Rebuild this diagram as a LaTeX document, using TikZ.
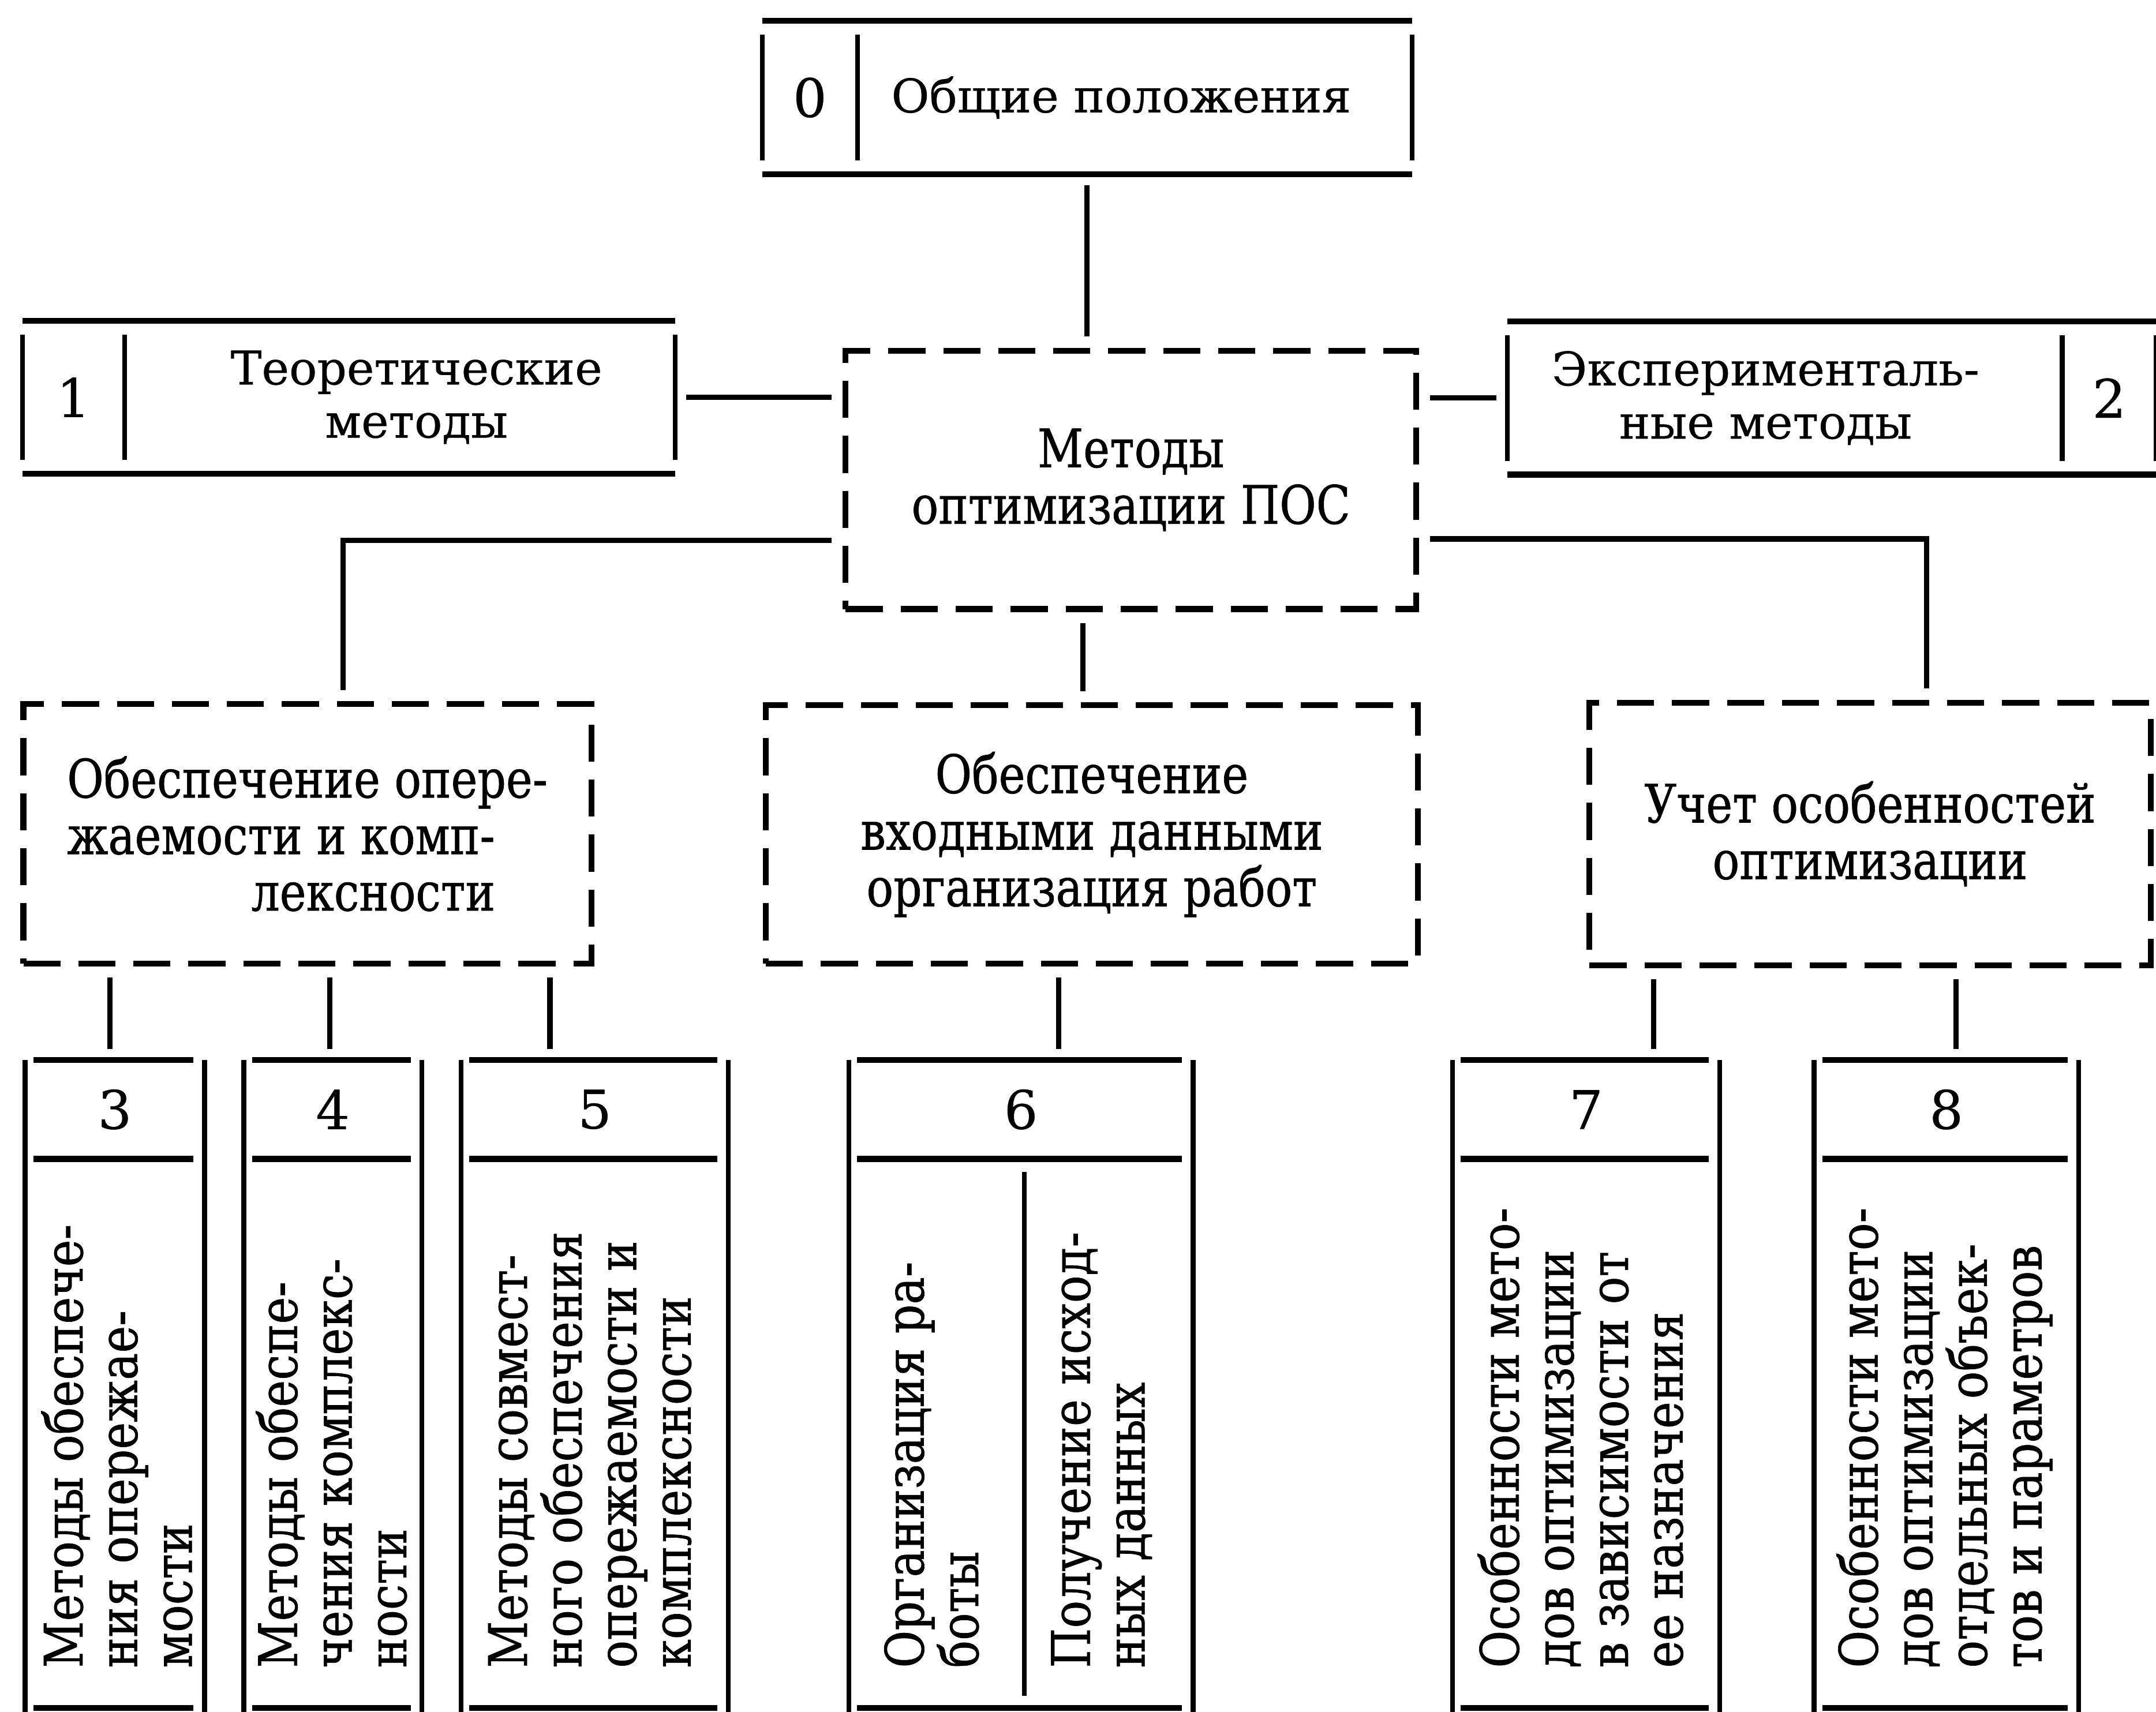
\documentclass[tikz,border=0pt]{standalone}
\usepackage{fontspec}
\setmainfont[FakeBold=0.4]{DejaVu Serif}
\newfontfamily\boxfont[FakeStretch=0.84,FakeBold=0.7]{DejaVu Serif}
\newfontfamily\spinefont[FakeStretch=0.86,FakeBold=0.7]{DejaVu Serif}
\usetikzlibrary{positioning}

\newcommand{\topframe}[2]{%
	\draw[rule] (#1.north west) -- (#2.north east);
	\draw[rule] (#1.south west) -- (#2.south east);
	\draw[side] ([yshift=-1mm]#1.north west) -- ([yshift=1mm]#1.south west);
	\draw[side] ([yshift=-1mm]#1.north east) -- ([yshift=1mm]#1.south east);
	\draw[side] ([yshift=-1mm]#2.north east) -- ([yshift=1mm]#2.south east);
}
\newcommand{\colframe}[2]{%
	\draw[side] (#1.north west) -- ([yshift=-1mm]#2.south west);
	\draw[side] (#1.north east) -- ([yshift=-1mm]#2.south east);
	\draw[rule] ([xshift=0.6mm]#1.north west) -- ([xshift=-0.8mm]#1.north east);
	\draw[rule] ([xshift=0.6mm]#1.south west) -- ([xshift=-0.8mm]#1.south east);
	\draw[rule] ([xshift=0.6mm]#2.south west) -- ([xshift=-0.8mm]#2.south east);
}

\begin{document}
\begin{tikzpicture}[
	rule/.style={line width=1.2pt},
	side/.style={line width=1pt},
	link/.style={line width=1.1pt, shorten <=0.8mm, shorten >=0.8mm},
	dashbox/.style={draw, line width=1.2pt, dash pattern=on 2.7mm off 1.3mm, inner sep=0pt, align=center, font=\boxfont\fontsize{11}{11.7}\selectfont},
	cell/.style={inner sep=0pt, minimum height=1.1cm, align=center, font=\fontsize{9.6}{11}\selectfont},
	numcell/.style={cell, font=\fontsize{11}{12}\selectfont},
	head/.style={inner sep=0pt, minimum height=0.705cm, font=\fontsize{11}{12}\selectfont},
	body/.style={inner sep=0pt, minimum height=3.98cm},
	spine/.style={rotate=90, anchor=north west, inner sep=0pt, align=left, font=\spinefont\fontsize{11}{11.3}\selectfont}]
	\useasboundingbox (0,0) rectangle (15.68,-12.45);

	\node[numcell, minimum width=0.68cm] (n0) at (5.89,-0.71) {0};
	\node[cell, minimum width=4.02cm, right=0pt of n0] (b0) {Общие положения\hspace*{2mm}};
	\topframe{n0}{b0}
	\node[numcell, minimum width=0.73cm] (n1) at (0.535,-2.89) {1};
	\node[cell, minimum width=3.99cm, right=0pt of n1] (b1) {\hspace*{2.4mm}Теоретические\\\hspace*{2.4mm}методы};
	\topframe{n1}{b1}
	\node[cell, minimum width=4.02cm] (b2) at (12.98,-2.895) {Эксперименталь-\hspace*{2.8mm}\\ные методы\hspace*{2.8mm}};
	\node[numcell, minimum width=0.67cm, right=0pt of b2] (n2) {2};
	\topframe{b2}{n2}

	\node[dashbox, minimum width=4.15cm, minimum height=1.88cm] (opt) at (8.225,-3.49) {Методы\\оптимизации ПОС};
	\node[dashbox, minimum width=4.13cm, minimum height=1.89cm, align=left] (sa) at (2.235,-6.065) {Обеспечение опере-\\жаемости и комп-\\\hspace*{1.34cm}лексности};
	\node[dashbox, minimum width=4.74cm, minimum height=1.88cm] (sb) at (7.94,-6.07) {Обеспечение\\входными данными\\организация работ};
	\node[dashbox, minimum width=4.08cm, minimum height=1.91cm] (sc) at (13.6,-6.065) {Учет особенностей\\оптимизации};

	\draw[link] ([xshift=-3.2mm]opt.north) -- ([xshift=-3.2mm]opt.north |- b0.south);
	\draw[link] (b1.east) -- (b1.east -| opt.west);
	\draw[link] (opt.east |- b2.west) -- (b2.west);
	\draw[link] ([yshift=-4.4mm]opt.west) -| ([xshift=2.6mm]sa.north);
	\draw[link] ([yshift=-4.3mm]opt.east) -| ([xshift=4.1mm]sc.north);
	\draw[link] ([xshift=-3.5mm]opt.south) -- ([xshift=-3.5mm]opt.south |- sb.north);

	\node[head, minimum width=1.29cm] (h3) at (0.835,-8.07) {3};
	\node[head, minimum width=1.28cm] (h4) at (2.42,-8.07) {4};
	\node[head, minimum width=1.93cm] (h5) at (4.325,-8.07) {5};
	\node[head, minimum width=2.49cm] (h6) at (7.425,-8.07) {6};
	\node[head, minimum width=1.93cm] (h7) at (11.535,-8.07) {7};
	\node[head, minimum width=1.91cm] (h8) at (14.155,-8.07) {8};
	\node[body, minimum width=1.29cm, below=0pt of h3] (t3) {};
	\node[body, minimum width=1.28cm, below=0pt of h4] (t4) {};
	\node[body, minimum width=1.93cm, below=0pt of h5] (t5) {};
	\node[body, minimum width=2.49cm, below=0pt of h6] (t6) {};
	\node[body, minimum width=1.93cm, below=0pt of h7] (t7) {};
	\node[body, minimum width=1.91cm, below=0pt of h8] (t8) {};
	\colframe{h3}{t3}
	\colframe{h4}{t4}
	\colframe{h5}{t5}
	\colframe{h6}{t6}
	\colframe{h7}{t7}
	\colframe{h8}{t8}
	\draw[side] ([xshift=0.25mm,yshift=-0.95mm]t6.north) -- ([xshift=0.25mm,yshift=0.9mm]t6.south);

	\draw[link] ([xshift=-0.35mm]h3.north) -- ([xshift=-0.35mm]h3.north |- sa.south);
	\draw[link] ([xshift=-0.2mm]h4.north) -- ([xshift=-0.2mm]h4.north |- sa.south);
	\draw[link] ([xshift=-3.25mm]h5.north) -- ([xshift=-3.25mm]h5.north |- sa.south);
	\draw[link] ([xshift=2.75mm]h6.north) -- ([xshift=2.75mm]h6.north |- sb.south);
	\draw[link] ([xshift=4.9mm]h7.north) -- ([xshift=4.9mm]h7.north |- sc.south);
	\draw[link] ([xshift=0.7mm]h8.north) -- ([xshift=0.7mm]h8.north |- sc.south);

	\node[spine] (s3) at ([xshift=1.1mm,yshift=2.85mm]t3.south west) {Методы обеспече-\\ния опережае-\\мости};
	\node[spine] (s4) at ([xshift=0.8mm,yshift=2.85mm]t4.south west) {Методы обеспе-\\чения комплекс-\\ности};
	\node[spine] (s5) at ([xshift=1.9mm,yshift=2.85mm]t5.south west) {Методы совмест-\\ного обеспечения\\опережаемости и\\комплексности};
	\node[spine] (s6a) at ([xshift=2.5mm,yshift=2.85mm]t6.south west) {Организация ра-\\боты};
	\node[spine] (s6b) at ([xshift=14.65mm,yshift=2.85mm]t6.south west) {Получение исход-\\ных данных};
	\node[spine] (s7) at ([xshift=1.75mm,yshift=2.85mm]t7.south west) {Особенности мето-\\дов оптимизации\\в зависимости от\\ее назначения};
	\node[spine] (s8) at ([xshift=1.55mm,yshift=2.85mm]t8.south west) {Особенности мето-\\дов оптимизации\\отдельных объек-\\тов и параметров};
\end{tikzpicture}
\end{document}
